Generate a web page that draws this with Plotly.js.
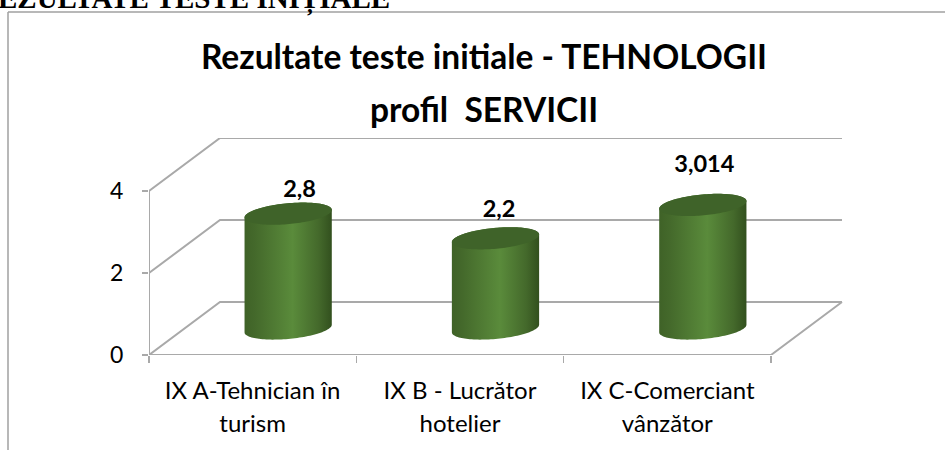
<!DOCTYPE html>
<html>
<head>
<meta charset="utf-8">
<script src="https://cdn.plot.ly/plotly-3.0.1.min.js"></script>
<style>html,body{margin:0;padding:0;background:#fff;overflow:hidden}#c{width:945px;height:450px}</style>
</head>
<body>
<div id="c"></div>
<script>
const categories = ['IX A-Tehnician în<br>turism', 'IX B - Lucrător<br>hotelier', 'IX C-Comerciant<br>vânzător'];
const values = [2.8, 2.2, 3.014];
const yTicks = [0, 2, 4];
const xEdges = [0, 1, 2, 3];
const labelLift = [0.56, 0.66, 0.94];
const labelShift = [0.055, 0.017, 0.007];

const W = 945, H = 450, L = 149, R = 843, T = 138, B = 355;
const unitX = 207.33, unitY = 41;
const depthX = 71 / unitX, depthY = 53 / unitY;   // oblique offset of the back plane
const gridColor = '#a9a9a9';
const font = 'Lato, "Open Sans", sans-serif';

const proj = (x, y, d) => [x + depthX * d, y + depthY * d];

// walls and floor
const gx = [], gy = [];
function seg(pts) { pts.forEach(p => { gx.push(p[0]); gy.push(p[1]); }); gx.push(null); gy.push(null); }
yTicks.forEach(v => seg([proj(0, v, 0), proj(0, v, 1), proj(3, v, 1)]));
seg([proj(3, 0, 1), proj(3, 0, 0), proj(0, 0, 0), proj(0, 4, 0)]);

const traces = [{ x: gx, y: gy, mode: 'lines', line: { color: gridColor, width: 2 }, hoverinfo: 'skip', showlegend: false }];

// cylinders
const depthMid = 0.5, rDepth = 0.21, rX = 41 / unitX;
const halfW = Math.hypot(rX, depthX * rDepth);
function rim(cx, y, t) {
  const p = proj(cx + rX * Math.cos(t), y, depthMid + rDepth * Math.sin(t));
  return p;
}
const tExt = Math.atan2(depthX * rDepth, rX);
values.forEach((v, i) => {
  const cx = i + 0.5;
  const centre = proj(cx, 0, depthMid)[0];
  const bx = [], by = [];
  const n = 60;
  for (let k = 0; k <= n; k++) { const t = tExt + Math.PI + (Math.PI * k) / n; const p = rim(cx, 0, t); bx.push(p[0]); by.push(p[1]); }
  for (let k = 0; k <= n; k++) { const t = tExt + (Math.PI * k) / n; const p = rim(cx, v, t); bx.push(p[0]); by.push(p[1]); }
  bx.push(bx[0]); by.push(by[0]);
  traces.push({
    x: bx, y: by, mode: 'none', fill: 'toself', hoverinfo: 'skip', showlegend: false,
    fillgradient: {
      type: 'horizontal', start: centre - halfW, stop: centre + halfW,
      colorscale: [[0, '#3f6227'], [0.12, '#44692b'], [0.55, '#5a8b3b'], [0.85, '#44692b'], [1, '#32501e']]
    }
  });
  const tx = [], ty = [];
  for (let k = 0; k <= 2 * n; k++) { const p = rim(cx, v, (Math.PI * k) / n); tx.push(p[0]); ty.push(p[1]); }
  traces.push({ x: tx, y: ty, mode: 'none', fill: 'toself', fillcolor: '#3f6329', hoverinfo: 'skip', showlegend: false });
});

// data labels
traces.push({
  x: values.map((v, i) => proj(i + 0.5, v, depthMid)[0] + labelShift[i]),
  y: values.map((v, i) => proj(i + 0.5, v, depthMid)[1] + labelLift[i]),
  text: values.map(v => String(v).replace('.', ',')),
  mode: 'text', textposition: 'middle center',
  textfont: { family: font, size: 23.5, color: '#000', weight: 700 },
  hoverinfo: 'skip', showlegend: false
});

const px = x => (x - L) / (R - L);
const py = y => (B - y) / (B - T);

const layout = {
  width: W, height: H, showlegend: false,
  paper_bgcolor: '#fff', plot_bgcolor: 'rgba(0,0,0,0)',
  margin: { l: L, r: W - R, t: T, b: H - B, pad: 0 },
  font: { family: font, color: '#000' },
  title: {
    text: '<span style="font-size:33.5px">Rezultate teste initiale - TEHNOLOGII</span><br><span style="font-size:33.5px">profil  SERVICII</span>',
    font: { family: font, size: 41, color: '#000', weight: 700 },
    x: 484 / W, xanchor: 'center', y: 1 - 69 / H, yanchor: 'middle'
  },
  xaxis: {
    range: [0, (R - L) / unitX], zeroline: false, showgrid: false, showline: false,
    tickmode: 'array', tickvals: [0.5, 1.5, 2.5],
    ticktext: categories.map(c => c.split('<br>').map(s => '<span style="font-size:24px">' + s + '</span>').join('<br>')),
    ticks: '', tickfont: { family: font, size: 25, color: '#000' }, ticklabelstandoff: 18,
    minor: { tickmode: 'array', tickvals: xEdges, ticks: 'outside', ticklen: 7, tickcolor: gridColor, tickwidth: 1.5, showgrid: false }
  },
  yaxis: {
    range: [0, (B - T) / unitY], zeroline: false, showgrid: false, showline: false,
    tickmode: 'array', tickvals: yTicks, ticktext: yTicks.map(String),
    ticks: 'outside', ticklen: 6, tickcolor: gridColor, tickwidth: 1.5,
    tickfont: { family: font, size: 23, color: '#000' }, ticklabelstandoff: 14
  },
  shapes: [
    { type: 'line', xref: 'paper', yref: 'paper', x0: px(8), x1: px(8), y0: py(12), y1: py(450), line: { color: '#a0a0a0', width: 1.5 } },
    { type: 'line', xref: 'paper', yref: 'paper', x0: px(8), x1: px(945), y0: py(12), y1: py(12), line: { color: '#a0a0a0', width: 1.5 } }
  ],
  annotations: [{
    text: '<b>REZULTATE TESTE INIȚIALE</b>', xref: 'paper', yref: 'paper', x: px(392), y: py(18),
    xanchor: 'right', yanchor: 'bottom', showarrow: false, align: 'right',
    font: { family: '"Liberation Serif", serif', size: 29, color: '#000' }
  }]
};
Plotly.newPlot('c', traces, layout, { displayModeBar: false, staticPlot: true });
</script>
</body>
</html>
